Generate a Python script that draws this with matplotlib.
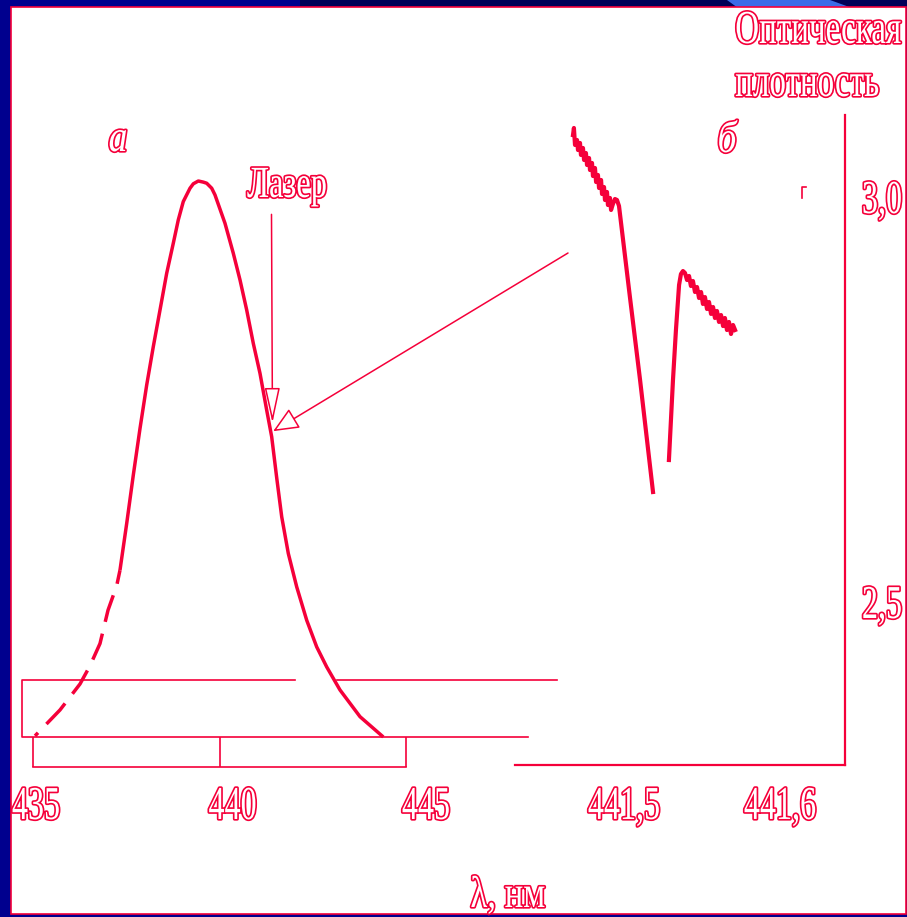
import matplotlib
matplotlib.use('Agg')
import matplotlib.pyplot as plt
import matplotlib.colors as mcolors
from matplotlib.patheffects import AbstractPathEffect
from matplotlib.transforms import Affine2D
from matplotlib.patches import Rectangle, Polygon

RED = '#f5003a'
NAVY = '#00008e'
plt.rcParams['font.family'] = ['Liberation Serif', 'DejaVu Serif']

# ---------------- panel "а": absorption band (arbitrary units) ----------------
band_solid_nm = [437.332, 437.512, 437.689, 437.869, 438.048, 438.225, 438.405,
                 438.584, 438.761, 438.895, 439.029, 439.209, 439.298, 439.432,
                 439.566, 439.657, 439.791, 439.879, 440.147, 440.370, 440.550,
                 440.729, 440.906, 441.086, 441.265, 441.399, 441.534, 441.668,
                 441.845, 442.070, 442.338, 442.606, 442.874, 443.231, 443.767,
                 444.391]
band_solid_abs = [0.300, 0.384, 0.471, 0.555, 0.633, 0.702, 0.768,
                  0.834, 0.888, 0.930, 0.963, 0.987, 0.995, 1.000,
                  0.998, 0.996, 0.987, 0.975, 0.924, 0.870, 0.822,
                  0.768, 0.708, 0.654, 0.588, 0.540, 0.466, 0.396,
                  0.330, 0.270, 0.210, 0.162, 0.126, 0.0845, 0.0365,
                  0.000]
band_dash_nm = [437.332, 437.244, 437.011, 436.796, 436.528, 436.260, 435.724, 435.054]
band_dash_abs = [0.300, 0.272, 0.228, 0.168, 0.128, 0.0953, 0.0486, 0.002]
a_ticks = [435, 440, 445]
a_ticklabels = ['435', '440', '445']
laser_nm = 441.42
laser_abs = 0.565

# ---------------- panel "б": optical density near 441.5 nm ----------------
b_left_nm = [441.4673, 441.4679, 441.4686, 441.4699, 441.4705, 441.4718, 441.4724,
             441.4737, 441.4744, 441.4756, 441.4763, 441.4776, 441.4782, 441.4795,
             441.4801, 441.4814, 441.4821, 441.4833, 441.4840, 441.4853, 441.4859,
             441.4872, 441.4878, 441.4891, 441.4897, 441.4910, 441.4917, 441.4929,
             441.4942, 441.4955, 441.4968, 441.5038, 441.5103, 441.5186]
b_left_od = [3.0765, 3.0852, 3.0642, 3.0704, 3.0580, 3.0667, 3.0519,
             3.0605, 3.0457, 3.0543, 3.0395, 3.0481, 3.0333, 3.0420,
             3.0259, 3.0358, 3.0185, 3.0272, 3.0111, 3.0210, 3.0037,
             3.0123, 2.9963, 3.0062, 2.9901, 2.9988, 2.9840, 2.9914,
             2.9975, 2.9963, 2.9889, 2.8765, 2.7741, 2.6358]
b_right_nm = [441.5288, 441.5314, 441.5333, 441.5353, 441.5365, 441.5378, 441.5391,
              441.5404, 441.5417, 441.5429, 441.5442, 441.5455, 441.5468, 441.5481,
              441.5494, 441.5506, 441.5519, 441.5532, 441.5545, 441.5558, 441.5571,
              441.5583, 441.5596, 441.5609, 441.5622, 441.5635, 441.5647, 441.5660,
              441.5673, 441.5686, 441.5699, 441.5712]
b_right_od = [2.6753, 2.7741, 2.8358, 2.8914, 2.9049, 2.9086, 2.9062,
              2.8975, 2.9025, 2.8901, 2.8963, 2.8827, 2.8889, 2.8753,
              2.8827, 2.8679, 2.8765, 2.8617, 2.8704, 2.8556, 2.8642,
              2.8506, 2.8593, 2.8457, 2.8543, 2.8407, 2.8506, 2.8358,
              2.8457, 2.8309, 2.8420, 2.8358]
b_xticks = [441.5, 441.6]
b_xticklabels = ['441,5', '441,6']
b_yticks = [2.5, 3.0]
b_yticklabels = ['2,5', '3,0']


class Hollow(AbstractPathEffect):
    """Outlined (hollow) lettering, stretched vertically from the baseline."""
    def __init__(self, sx=1.0, sy=1.4, lw=2.4, dx=0.0, dy=0.0, ec=RED, fc='white'):
        super().__init__()
        self.sx, self.sy, self.lw, self.dx, self.dy = sx, sy, lw, dx, dy
        self.ec = mcolors.to_rgba(ec)
        self.fc = mcolors.to_rgba(fc)

    def draw_path(self, renderer, gc, tpath, affine, rgbFace=None):
        ext = tpath.get_extents()
        cx = 0.5 * (ext.x0 + ext.x1)
        aff = (Affine2D().translate(-cx, 0).scale(self.sx, self.sy).translate(cx, 0)
               + affine + Affine2D().translate(self.dx, -self.dy))
        g = renderer.new_gc()
        g.copy_properties(gc)
        g.set_foreground(self.ec)
        g.set_linewidth(self.lw)
        g.set_joinstyle('round')
        renderer.draw_path(g, tpath, aff, self.ec)
        g.restore()
        g2 = renderer.new_gc()
        g2.copy_properties(gc)
        g2.set_linewidth(0)
        renderer.draw_path(g2, tpath, aff, self.fc)
        g2.restore()


fig = plt.figure(figsize=(9.07, 9.17), dpi=100, facecolor=NAVY)
PX = Affine2D().scale(1 / 907, -1 / 917).translate(0, 1) + fig.transFigure

# slide decoration
fig.add_artist(Polygon([(300, 0), (907, 0), (907, 8), (300, 8)], closed=True,
                       transform=PX, fc='#000058', ec='none', zorder=-3))
fig.add_artist(Polygon([(727, 0), (830, 0), (852, 8), (738, 8)], closed=True,
                       transform=PX, fc='#3a6ce8', ec='none', zorder=-2))
fig.add_artist(Rectangle((11, 7), 895, 907, transform=PX, fc='white',
                         ec=RED, lw=1.2, zorder=-1))

TICK_SIZE = 23.1
TICK_SY = 1.47

# ---------------- axes а ----------------
ax1 = fig.add_axes([33 / 907, 150 / 917, 373 / 907, 597 / 917], facecolor='none')
ax1.set_xlim(435, 445)
ax1.set_ylim(-0.054, 1.0198)
for s in ['left', 'right', 'top']:
    ax1.spines[s].set_visible(False)
ax1.spines['bottom'].set_color(RED)
ax1.spines['bottom'].set_linewidth(1.2)
ax1.set_yticks([])
ax1.set_xticks(a_ticks, a_ticklabels)
ax1.tick_params(axis='x', direction='in', length=21.6, width=1.2, color=RED,
                labelcolor=RED, labelsize=TICK_SIZE, pad=21.6)
for lbl, dx in zip(ax1.get_xticklabels(), [3, 13, 20]):
    lbl.set_path_effects([Hollow(1.0, TICK_SY, 2.4, dx)])

# frame lines of the original drawing
ax1.plot([442.024, 434.705, 434.705, 448.27], [0.1025, 0.1025, 0.0, 0.0],
         color=RED, lw=1.2, clip_on=False)
ax1.plot([443.15, 449.05], [0.1025, 0.1025], color=RED, lw=1.2, clip_on=False)

ax1.plot(band_solid_nm, band_solid_abs, color=RED, lw=2.5, clip_on=False,
         solid_joinstyle='round', solid_capstyle='butt')
ax1.plot(band_dash_nm, band_dash_abs, color=RED, lw=2.5, clip_on=False,
         linestyle=(4, (8, 3.5)))

# ---------------- axes б ----------------
ax2 = fig.add_axes([515 / 907, 152 / 917, 330 / 907, 650 / 917], facecolor='none')
ax2.set_xlim(441.43013, 441.64167)
ax2.set_ylim(2.29877, 3.10123)
for s in ['left', 'top']:
    ax2.spines[s].set_visible(False)
for s in ['right', 'bottom']:
    ax2.spines[s].set_color(RED)
    ax2.spines[s].set_linewidth(1.6)
ax2.yaxis.tick_right()
ax2.set_xticks(b_xticks, b_xticklabels)
ax2.set_yticks(b_yticks, b_yticklabels)
ax2.tick_params(length=0, labelcolor=RED, labelsize=TICK_SIZE)
ax2.tick_params(axis='x', pad=23.0)
ax2.tick_params(axis='y', pad=12.2)
for lbl in ax2.get_xticklabels():
    lbl.set_path_effects([Hollow(1.0, TICK_SY, 2.4)])
for lbl in ax2.get_yticklabels():
    lbl.set_path_effects([Hollow(1.0, TICK_SY, 2.4, 0, 5)])

ax2.plot(b_left_nm, b_left_od, color=RED, lw=3.0, solid_joinstyle='round')
ax2.plot(b_right_nm, b_right_od, color=RED, lw=3.0, solid_joinstyle='round')
ax2.plot([441.6167, 441.6141, 441.6141], [3.0123, 3.0123, 2.9988], color=RED, lw=1.2)

# arrows
ax1.annotate('', xy=(laser_nm, laser_abs), xytext=(441.394, 0.940),
             annotation_clip=False,
             arrowprops=dict(arrowstyle='-|>,head_length=2.2,head_width=0.48',
                             mutation_scale=10, fc='white', ec=RED, lw=1.1,
                             shrinkA=0, shrinkB=0))
ax1.annotate('', xy=(441.439, 0.550), xytext=(449.343, 0.8705),
             annotation_clip=False,
             arrowprops=dict(arrowstyle='-|>,head_length=1.6,head_width=0.7',
                             mutation_scale=10, fc='white', ec=RED, lw=1.1,
                             shrinkA=0, shrinkB=0))

# labels
def label(x, y, s, size, sy, **kw):
    fig.text(x, y, s, transform=PX, ha='center', va='baseline', fontsize=size,
             color=RED, path_effects=[Hollow(1.0, sy, 2.4)], **kw)

label(818, 43, 'Оптическая', 23.8, 1.43)
label(807, 96, 'плотность', 23.8, 1.43)
label(287, 197, 'Лазер', 23.4, 1.37)
label(118, 151, 'а', 27.2, 1.18, style='italic')
label(727, 152, 'б', 27.2, 1.18, style='italic')
label(508, 907, 'λ, нм', 25.0, 1.28)

fig.savefig('out.png', dpi=100, facecolor=NAVY)
